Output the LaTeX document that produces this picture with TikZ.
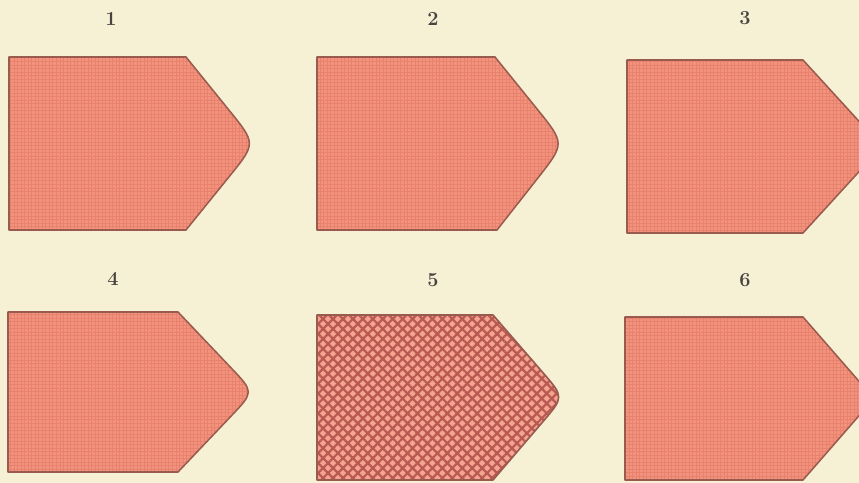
\documentclass[tikz,border=0pt]{standalone}
\usetikzlibrary{calc, patterns, patterns.meta}
\definecolor{paper}{HTML}{F6F1D4}
\definecolor{salmon}{HTML}{F2947D}
\definecolor{salmongrid}{HTML}{E8826E}
\definecolor{edge}{HTML}{9A5B4F}
\definecolor{hatch}{HTML}{B85A52}
\definecolor{digit}{HTML}{4A4440}

\begin{document}
\begin{tikzpicture}[x=0.03cm, y=-0.03cm,
      tag/.style={draw=edge, line width=1.3pt, line join=round,
                  preaction={fill=salmon}, pattern=grid, pattern color=salmongrid},
      hatched/.style={draw=edge, line width=1.4pt, line join=round,
                  preaction={fill=salmon!85!white},
                  preaction={pattern={Lines[angle=45, distance=6pt, line width=1.9pt]}, pattern color=hatch},
                  pattern={Lines[angle=-45, distance=6pt, line width=1.9pt]}, pattern color=hatch},
      num/.style={text=digit, font=\bfseries\fontsize{17}{17}\selectfont, inner sep=0pt}]
    \clip (0,0) rectangle (859,483);
    \fill[paper] (0,0) rectangle (859,483);

    % top row
    \coordinate (a1) at (186,57);  \coordinate (t1) at (256,143.5); \coordinate (b1) at (186,230);
    \coordinate (a2) at (495,57);  \coordinate (t2) at (565,143.5); \coordinate (b2) at (497,230);
    \coordinate (a3) at (803,60);  \coordinate (t3) at (882,146.5); \coordinate (b3) at (803,233);

    \draw[tag] (9,57) -- (a1) -- ($(t1)!0.38!(a1)$) .. controls (t1) .. ($(t1)!0.38!(b1)$)
               -- (b1) -- (9,230) -- cycle;
    \draw[tag] (317,57) -- (a2) -- ($(t2)!0.4!(a2)$) .. controls (t2) .. ($(t2)!0.4!(b2)$)
               -- (b2) -- (317,230) -- cycle;
    \draw[tag] (627,60) -- (a3) -- (t3) -- (b3) -- (627,233) -- cycle;

    % bottom row
    \coordinate (a4) at (178,312); \coordinate (t4) at (254,392); \coordinate (b4) at (178,472);
    \coordinate (a5) at (493,315); \coordinate (t5) at (564,397); \coordinate (b5) at (493,480);
    \coordinate (a6) at (803,317); \coordinate (t6) at (874,398.5); \coordinate (b6) at (803,480);

    \draw[tag] (8,312) -- (a4) -- ($(t4)!0.3!(a4)$) .. controls (t4) .. ($(t4)!0.3!(b4)$)
               -- (b4) -- (8,472) -- cycle;
    \draw[hatched] (317,315) -- (a5) -- ($(t5)!0.3!(a5)$) .. controls (t5) .. ($(t5)!0.3!(b5)$)
               -- (b5) -- (317,480) -- cycle;
    \draw[tag] (625,317) -- (a6) -- (t6) -- (b6) -- (625,480) -- cycle;

    \node[num] (n1) at (111,19) {1};
    \node[num] (n2) at (433,19) {2};
    \node[num] (n3) at (745,18) {3};
    \node[num] (n4) at (113,279) {4};
    \node[num] (n5) at (433,280) {5};
    \node[num] (n6) at (745,280) {6};
  \end{tikzpicture}
\end{document}
